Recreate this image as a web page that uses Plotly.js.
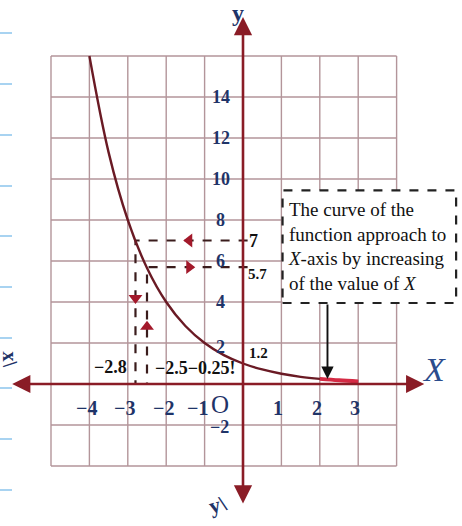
<!DOCTYPE html>
<html>
<head>
<meta charset="utf-8">
<script src="https://cdn.plot.ly/plotly-3.0.1.min.js"></script>
<style>html,body{margin:0;padding:0;background:#fff;}#chart{width:462px;height:526px;}</style>
</head>
<body>
<div id="chart"></div>
<script>
// curve values
var curveX = [-4, -3.5, -3, -2.5, -2, -1.5, -1, -0.5, 0, 0.5, 1, 1.5, 2, 2.5, 3];
var curveY = [16, 11.3, 8, 5.66, 4, 2.83, 2, 1.41, 1, 0.71, 0.5, 0.35, 0.25, 0.18, 0.125];
// guide (read-off) points
var guideX = [-2.8, -2.5];
var guideY = [7, 5.7];
// tick labels
var yTickVals = [14, 12, 10, 8, 6, 4, 2, -2];
var xTickVals = [-4, -3, -2, -1, 0, 1, 2, 3];
var xTickText = ["\u22124", "\u22123", "\u22122", "\u22121", "O", "1", "2", "3"];
var gridXs = [-5, -4, -3, -2, -1, 0, 1, 2, 3, 4];
var gridYs = [-4, -2, 0, 2, 4, 6, 8, 10, 12, 14, 16];
var boxText = "The curve of the<br>function approach to<br><i>X</i>-axis by increasing<br>of the value of <i>X</i>";

var serif = "Liberation Serif, Times New Roman, serif";
var navy = "#1f3468";
var axisColor = "#8a1c26";
var gridColor = "#b3959a";

var shapes = [];
// notebook margin lines
[33, 84, 135, 186, 236, 287, 338, 388, 439, 490].forEach(function(p){
  shapes.push({type:"line", xref:"paper", yref:"paper", x0:0, x1:12/462, y0:1-p/526, y1:1-p/526,
    line:{color:"#9fcff0", width:1.8}, layer:"below"});
});
gridXs.forEach(function(g){
  shapes.push({type:"line", x0:g, x1:g, y0:gridYs[0], y1:gridYs[gridYs.length-1],
    line:{color:gridColor, width:1.4}, layer:"below"});
});
gridYs.forEach(function(g){
  shapes.push({type:"line", x0:gridXs[0], x1:gridXs[gridXs.length-1], y0:g, y1:g,
    line:{color:gridColor, width:1.4}, layer:"below"});
});
// text box
shapes.push({type:"rect", x0:1.03, x1:5.55, y0:3.95, y1:9.45, fillcolor:"#fff",
  line:{color:"#222", width:2.2, dash:"dash"}, layer:"below"});

var traces = [];
// guide dashed lines
guideX.forEach(function(g, i){
  traces.push({x:[0.12, g, g], y:[guideY[i], guideY[i], 0], mode:"lines", hoverinfo:"skip",
    line:{color:"#3a1c1c", width:2.2, dash:"dash"}, showlegend:false});
});
// guide arrowheads
traces.push({x:[guideX[0]/2, guideX[0]/2], y:[guideY[0], guideY[1]], mode:"markers", hoverinfo:"skip",
  marker:{symbol:["triangle-left","triangle-right"], size:12, color:"#a3192b"}, showlegend:false});
traces.push({x:[guideX[0], guideX[1]], y:[guideY[0]*0.6, guideY[1]*0.49], mode:"markers", hoverinfo:"skip",
  marker:{symbol:["triangle-down","triangle-up"], size:12, color:"#a3192b"}, showlegend:false});
// curve
traces.push({x:curveX, y:curveY, mode:"lines", line:{color:"#6a1a24", width:2.4, shape:"spline"},
  showlegend:false, hoverinfo:"skip"});
// highlighted tail
var tailX = [], tailY = [];
curveX.forEach(function(v, i){ if (v >= 2) { tailX.push(v); tailY.push(curveY[i]); } });
traces.push({x:tailX, y:tailY, mode:"lines", line:{color:"#d52a44", width:4, shape:"spline"},
  showlegend:false, hoverinfo:"skip"});

var ann = [];
// axes with arrowheads
ann.push({x:4.72, y:0, ax:-6.05, ay:0, axref:"x", ayref:"y", text:"", showarrow:true,
  arrowside:"end+start", arrowhead:2, startarrowhead:2, arrowsize:1.4, startarrowsize:1.4, arrowwidth:2.6, arrowcolor:axisColor, standoff:0, startstandoff:0});
ann.push({x:0, y:17.9, ax:0, ay:-5.9, axref:"x", ayref:"y", text:"", showarrow:true,
  arrowside:"end+start", arrowhead:2, startarrowhead:2, arrowsize:1.4, startarrowsize:1.4, arrowwidth:2.6, arrowcolor:axisColor, standoff:0, startstandoff:0});
// arrow from box to curve
ann.push({x:2.2, y:0.25, ax:2.2, ay:3.95, axref:"x", ayref:"y", text:"", showarrow:true,
  arrowhead:2, arrowsize:1.3, arrowwidth:1.9, arrowcolor:"#111", standoff:0});
// y tick labels
yTickVals.forEach(function(v){
  var xx = v < 0 ? -0.62 : -0.58;
  var yy = v === 2 ? 1.8 : (v < 0 ? -2.1 : v);
  var t = v < 0 ? "\u2212" + String(-v) : String(v);
  ann.push({x:xx, y:yy, text:"<b>" + t + "</b>", showarrow:false, font:{family:serif, size:18, color:navy}});
});
// x tick labels
xTickVals.forEach(function(v, i){
  var xx = v - 0.08, sz = 20, t = "<b>" + xTickText[i] + "</b>";
  if (v === -1) xx = -1.18;
  if (v === 0) { xx = -0.6; sz = 25; t = xTickText[i]; }
  ann.push({x:xx, y:v === 0 ? -1.0 : -1.15, text:t, showarrow:false, font:{family:serif, size:sz, color:navy}});
});
// read-off labels
ann.push({x:guideX[0]-0.66, y:0.83, text:"<b>\u22122.8</b>", showarrow:false, font:{family:serif, size:18, color:"#111"}});
ann.push({x:-1.24, y:0.78, text:"<b>\u22122.5\u22120.25!</b>", showarrow:false, font:{family:serif, size:18, color:"#111"}});
ann.push({x:0.28, y:guideY[0], text:"<b>" + String(guideY[0]) + "</b>", showarrow:false, font:{family:serif, size:18, color:"#111"}});
ann.push({x:0.38, y:guideY[1]-0.35, text:"<b>" + String(guideY[1]) + "</b>", showarrow:false, font:{family:serif, size:15, color:"#111"}});
ann.push({x:0.4, y:1.5, text:"<b>1.2</b>", showarrow:false, font:{family:serif, size:15, color:"#111"}});
// box text
ann.push({x:1.13, y:6.72, xanchor:"left", text:boxText, align:"left", showarrow:false,
  font:{family:serif, size:19, color:"#111"}});
// axis names
ann.push({x:-0.14, y:18.1, text:"<b>y</b>", showarrow:false, font:{family:serif, size:24, color:navy}});
ann.push({x:4.97, y:0.7, text:"<i>X</i>", showarrow:false, font:{family:serif, size:34, color:"#2b4c8c"}});
ann.push({x:-0.65, y:-5.9, text:"<b>y\\</b>", showarrow:false, textangle:-15, font:{family:serif, size:22, color:navy}});
ann.push({x:-6.07, y:1.2, text:"<b>x\\</b>", showarrow:false, textangle:90, font:{family:serif, size:20, color:navy}});

var layout = {
  width:462, height:526, margin:{l:0, r:0, t:0, b:0},
  paper_bgcolor:"#fff", plot_bgcolor:"#fff",
  xaxis:{range:[-243/38.4, (462-243)/38.4], visible:false, fixedrange:true},
  yaxis:{range:[-(526-384)/20.5, 384/20.5], visible:false, fixedrange:true},
  shapes:shapes, annotations:ann, showlegend:false
};
Plotly.newPlot("chart", traces, layout, {displayModeBar:false, staticPlot:true});
</script>
</body>
</html>
